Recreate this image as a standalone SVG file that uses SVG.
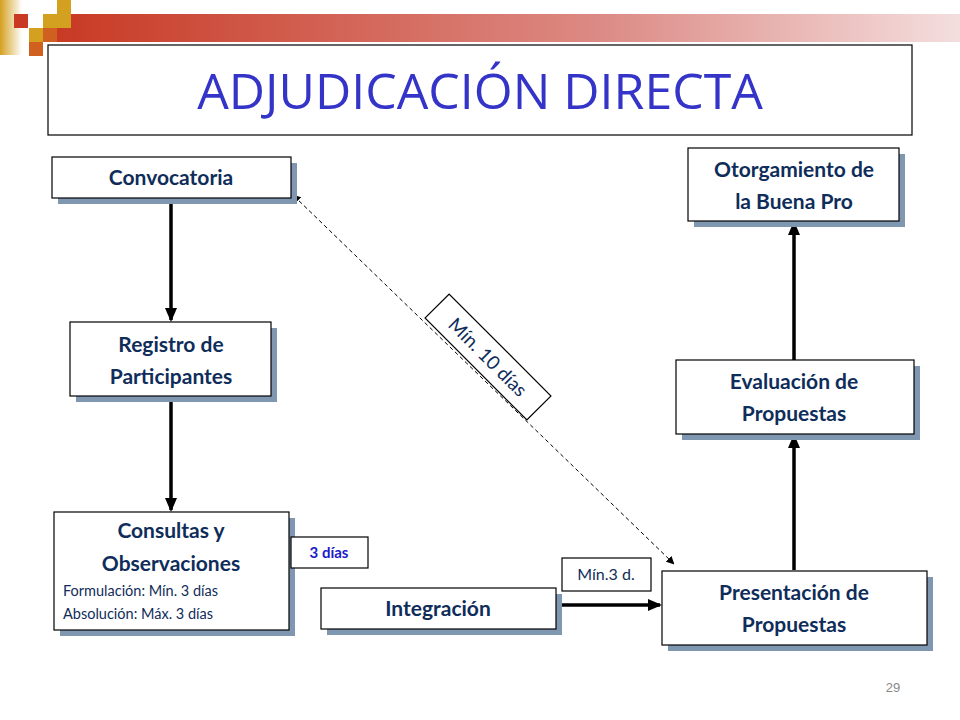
<svg xmlns="http://www.w3.org/2000/svg" width="960" height="720" viewBox="0 0 960 720">
<defs>
<linearGradient id="bar" x1="0" x2="1" y1="0" y2="0"><stop offset="0" stop-color="#c83a24"/><stop offset="0.6" stop-color="#dc8a84"/><stop offset="1" stop-color="#f4dede"/></linearGradient>
<linearGradient id="side" x1="0" x2="1"><stop offset="0" stop-color="#d4a020"/><stop offset="1" stop-color="#ffffff"/></linearGradient>
<marker id="ah" markerWidth="8" markerHeight="8" refX="6" refY="4" orient="auto-start-reverse" markerUnits="userSpaceOnUse"><path d="M0,0 L8,4 L0,8 z" fill="#000"/></marker>
<marker id="ahb" markerWidth="14" markerHeight="12" refX="12" refY="6" orient="auto" markerUnits="userSpaceOnUse"><path d="M0,0 L14,6 L0,12 z" fill="#000"/></marker>
</defs>
<style>
.sh{fill:#8097b1}
.bx{fill:#fff;stroke:#000;stroke-width:1.2}
.t{font-family:Lato,"Open Sans",sans-serif;font-weight:bold;font-size:21px;fill:#0f2d5a;text-anchor:middle}
.s{font-family:Lato,"Open Sans",sans-serif;font-size:14.5px;fill:#0f2d5a}
.c{stroke:#000;stroke-width:3.5;fill:none;marker-end:url(#ahb)}
</style>
<rect width="960" height="720" fill="#fff"/>
<rect x="0" y="0" width="22" height="55" fill="url(#side)"/>
<rect x="57" y="14" width="903" height="28" fill="url(#bar)"/>
<rect x="14" y="14" width="14" height="14" fill="#c83a24"/>
<rect x="43" y="14" width="14" height="14" fill="#d4a020"/>
<rect x="57" y="0" width="14" height="28" fill="#d4a020"/>
<rect x="29" y="28" width="14" height="14" fill="#d4a020"/>
<rect x="43" y="28" width="14" height="14" fill="#d06020"/>
<rect x="29" y="42" width="14" height="14" fill="#d06020"/>
<g id="title"><rect x="48" y="45" width="864" height="90" fill="#fff" stroke="#000" stroke-width="1.2"/><text x="480" y="109" font-family="Open Sans, DejaVu Sans, sans-serif" font-size="50" fill="#3434c8" text-anchor="middle">ADJUDICACIÓN DIRECTA</text></g>
<g id="connectors">
<line class="c" x1="171" y1="198" x2="171" y2="320"/>
<line class="c" x1="171" y1="396" x2="171" y2="510"/>
<line class="c" x1="556" y1="605" x2="660" y2="605"/>
<line class="c" x1="794" y1="570" x2="794" y2="436"/>
<line class="c" x1="794" y1="360" x2="794" y2="223"/>
<line x1="294" y1="196" x2="673" y2="563" stroke="#000" stroke-width="1" stroke-dasharray="4,3" marker-start="url(#ah)" marker-end="url(#ah)"/>
</g>
<g id="convocatoria"><rect class="sh" x="58" y="163" width="239" height="41"/><rect class="bx" x="52" y="157" width="239" height="41"/><text class="t" x="171" y="185">Convocatoria</text></g>
<g id="registro"><rect class="sh" x="76" y="328" width="201" height="74"/><rect class="bx" x="70" y="322" width="201" height="74"/><text class="t" x="171" y="352">Registro de</text><text class="t" x="171" y="384">Participantes</text></g>
<g id="consultas"><rect class="sh" x="60" y="518" width="235" height="118"/><rect class="bx" x="54" y="512" width="235" height="118"/><text class="t" x="171" y="538">Consultas y</text><text class="t" x="171" y="571">Observaciones</text><text class="s" x="63" y="596">Formulación: Mín. 3 días</text><text class="s" x="63" y="619">Absolución: Máx. 3 días</text></g>
<g id="tres"><rect class="bx" x="291" y="537" width="77" height="31"/><text x="329" y="558" font-family="Lato, Open Sans, sans-serif" font-weight="bold" font-size="15" fill="#1a1ac8" text-anchor="middle">3 días</text></g>
<g id="integracion"><rect class="sh" x="327" y="594" width="235" height="41"/><rect class="bx" x="321" y="588" width="235" height="41"/><text class="t" x="438" y="616">Integración</text></g>
<g id="min3"><rect class="bx" x="562" y="558" width="89" height="33"/><text class="s" x="606" y="580" text-anchor="middle" style="font-size:16px">Mín.3 d.</text></g>
<g id="min10" transform="translate(488,357) rotate(45)"><rect class="bx" x="-72" y="-17" width="144" height="34"/><text class="s" x="0" y="7" text-anchor="middle" style="font-size:19px">Mín. 10 días</text></g>
<g id="presentacion"><rect class="sh" x="668" y="577" width="265" height="74"/><rect class="bx" x="662" y="571" width="265" height="74"/><text class="t" x="794" y="600">Presentación de</text><text class="t" x="794" y="632">Propuestas</text></g>
<g id="evaluacion"><rect class="sh" x="682" y="366" width="238" height="74"/><rect class="bx" x="676" y="360" width="238" height="74"/><text class="t" x="794" y="389">Evaluación de</text><text class="t" x="794" y="421">Propuestas</text></g>
<g id="otorgamiento"><rect class="sh" x="694" y="154" width="211" height="73"/><rect class="bx" x="688" y="148" width="211" height="73"/><text class="t" x="794" y="177">Otorgamiento de</text><text class="t" x="794" y="209">la Buena Pro</text></g>
<text x="893" y="692" font-family="Liberation Sans, sans-serif" font-size="13" fill="#888" text-anchor="middle">29</text>
</svg>
